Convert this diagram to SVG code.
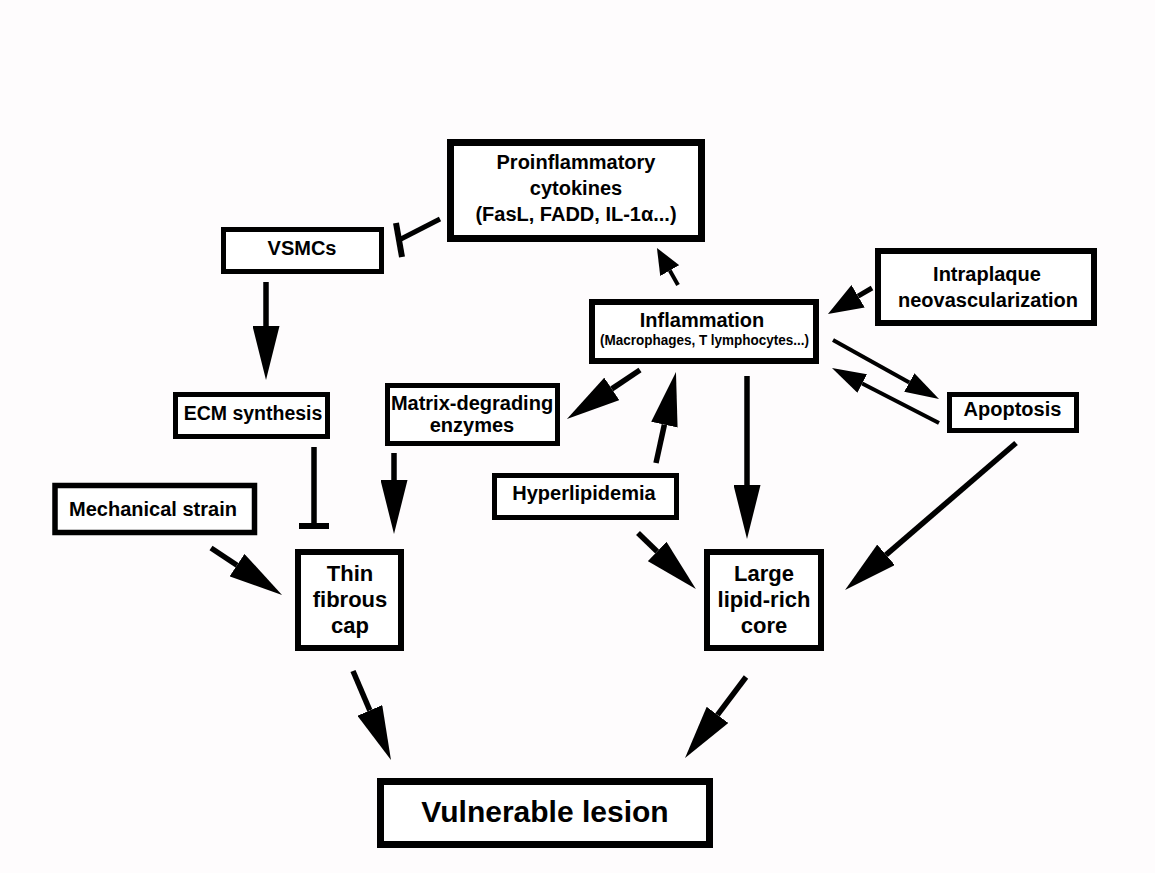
<svg xmlns="http://www.w3.org/2000/svg" width="1155" height="873" viewBox="0 0 1155 873">
<style>
.box{fill:#ffffff;stroke:#000;}
.t{font-family:"Liberation Sans",Arial,sans-serif;font-weight:bold;fill:#000;text-anchor:middle;}
.c{stroke:#000;fill:none;stroke-linecap:butt;}
</style>
<defs>
<marker id="big" viewBox="0 0 54 27" markerWidth="54" markerHeight="27" refX="0" refY="13.5" orient="auto" markerUnits="userSpaceOnUse"><path d="M0,0 L54,13.5 L0,27 Z" fill="#000"/></marker>
<marker id="mid" viewBox="0 0 35 26" markerWidth="35" markerHeight="26" refX="0" refY="13" orient="auto" markerUnits="userSpaceOnUse"><path d="M0,0 L35,13 L0,26 Z" fill="#000"/></marker>
<marker id="small" viewBox="0 0 34 21" markerWidth="34" markerHeight="21" refX="0" refY="10.5" orient="auto" markerUnits="userSpaceOnUse"><path d="M0,0 L34,10.5 L0,21 Z" fill="#000"/></marker>
<marker id="tiny" viewBox="0 0 26 22" markerWidth="26" markerHeight="22" refX="0" refY="11" orient="auto" markerUnits="userSpaceOnUse"><path d="M0,0 L26,11 L0,22 Z" fill="#000"/></marker>
</defs>
<rect x="0" y="0" width="1155" height="873" fill="#fefcfd"/>

<g id="proinflammatory">
<rect class="box" x="450.5" y="142.5" width="251" height="96" stroke-width="7"/>
<text class="t" x="576" y="169" font-size="20">Proinflammatory</text>
<text class="t" x="576" y="195" font-size="20">cytokines</text>
<text class="t" x="576" y="221" font-size="20">(FasL, FADD, IL-1α...)</text>
</g>
<g id="vsmcs">
<rect class="box" x="223.5" y="229.5" width="158" height="42" stroke-width="5"/>
<text class="t" x="302" y="255" font-size="20">VSMCs</text>
</g>
<g id="inflammation">
<rect class="box" x="592" y="302" width="224" height="59" stroke-width="6"/>
<text class="t" x="702" y="327" font-size="20">Inflammation</text>
<text class="t" x="704.5" y="345" font-size="14" textLength="209" lengthAdjust="spacingAndGlyphs">(Macrophages, T lymphocytes...)</text>
</g>
<g id="intraplaque">
<rect class="box" x="878" y="251" width="216" height="72" stroke-width="6"/>
<text class="t" x="987" y="281" font-size="20">Intraplaque</text>
<text class="t" x="988" y="307" font-size="20">neovascularization</text>
</g>
<g id="apoptosis">
<rect class="box" x="949.5" y="394.5" width="127" height="36" stroke-width="5"/>
<text class="t" x="1012.5" y="416" font-size="20">Apoptosis</text>
</g>
<g id="ecm">
<rect class="box" x="175.5" y="394.5" width="152" height="42" stroke-width="5"/>
<text class="t" x="253" y="420" font-size="19.5">ECM synthesis</text>
</g>
<g id="matrix">
<rect class="box" x="387.5" y="385.5" width="170" height="58" stroke-width="5"/>
<text class="t" x="472" y="410" font-size="20">Matrix-degrading</text>
<text class="t" x="472" y="432" font-size="20">enzymes</text>
</g>
<g id="mechanical">
<rect class="box" x="55" y="485.5" width="199.5" height="47" stroke-width="5.5"/>
<text class="t" x="153" y="516" font-size="20">Mechanical strain</text>
</g>
<g id="hyperlipidemia">
<rect class="box" x="494.5" y="475.5" width="182" height="42" stroke-width="5"/>
<text class="t" x="584" y="500" font-size="20">Hyperlipidemia</text>
</g>
<g id="thin">
<rect class="box" x="298" y="552" width="103" height="96" stroke-width="6"/>
<text class="t" x="350" y="581" font-size="22">Thin</text>
<text class="t" x="350" y="607" font-size="22">fibrous</text>
<text class="t" x="350" y="633" font-size="22">cap</text>
</g>
<g id="large">
<rect class="box" x="707" y="552" width="114" height="96" stroke-width="6"/>
<text class="t" x="764" y="581" font-size="22">Large</text>
<text class="t" x="764" y="607" font-size="22">lipid-rich</text>
<text class="t" x="764" y="633" font-size="22">core</text>
</g>
<g id="vulnerable">
<rect class="box" x="380.5" y="781.5" width="329" height="63" stroke-width="7"/>
<text class="t" x="545" y="822" font-size="30">Vulnerable lesion</text>
</g>

<g id="connectors">
<line class="c" x1="266" y1="282" x2="266" y2="326" stroke-width="5.5" marker-end="url(#big)"/>
<line class="c" x1="394" y1="453" x2="394" y2="480" stroke-width="5.5" marker-end="url(#big)"/>
<line class="c" x1="747" y1="376" x2="747" y2="485" stroke-width="5.5" marker-end="url(#big)"/>
<line class="c" x1="211" y1="548" x2="237" y2="565.2" stroke-width="5.5" marker-end="url(#big)"/>
<line class="c" x1="638" y1="533" x2="657.1" y2="551.5" stroke-width="5.5" marker-end="url(#big)"/>
<line class="c" x1="656" y1="463" x2="664.4" y2="424.7" stroke-width="5.5" marker-end="url(#big)"/>
<line class="c" x1="640" y1="370" x2="611.8" y2="388.9" stroke-width="5.5" marker-end="url(#big)"/>
<line class="c" x1="1016" y1="443" x2="886" y2="554.8" stroke-width="5.5" marker-end="url(#big)"/>
<line class="c" x1="353" y1="671" x2="369.8" y2="710.4" stroke-width="5.5" marker-end="url(#big)"/>
<line class="c" x1="746" y1="677" x2="717.5" y2="714.9" stroke-width="5.5" marker-end="url(#big)"/>
<line class="c" x1="872" y1="288" x2="858.1" y2="296.2" stroke-width="5" marker-end="url(#mid)"/>
<line class="c" x1="833" y1="340" x2="909.3" y2="382.5" stroke-width="4" marker-end="url(#small)"/>
<line class="c" x1="939" y1="423" x2="862.2" y2="383.5" stroke-width="4" marker-end="url(#small)"/>
<line class="c" x1="678" y1="285" x2="669.8" y2="270.6" stroke-width="4" marker-end="url(#tiny)"/>
<line class="c" x1="440" y1="219" x2="399" y2="240" stroke-width="5"/>
<line class="c" x1="396" y1="223" x2="402" y2="257" stroke-width="6"/>
<line class="c" x1="314" y1="447" x2="314" y2="523" stroke-width="5.5"/>
<line class="c" x1="299" y1="526" x2="329" y2="526" stroke-width="6"/>
</g>
</svg>
